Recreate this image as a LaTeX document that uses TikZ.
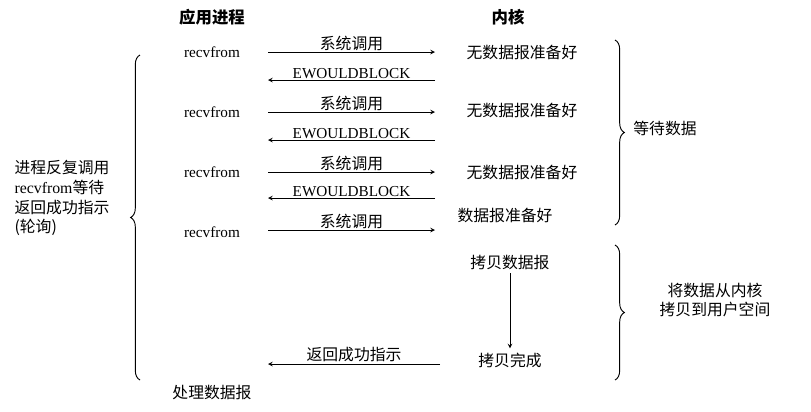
\documentclass[tikz,border=0pt]{standalone}
\usepackage{fontspec}
\setmainfont{Liberation Serif}
\newfontfamily\cjk{Noto Sans CJK SC}
\usetikzlibrary{decorations.pathreplacing}
\tikzset{
  every node/.style={font=\fontsize{13}{15}\selectfont},
  lbl/.style={font=\cjk\fontsize{13.5}{17}\selectfont},
  call/.style={thick,->,>=stealth},
  brc/.style={decorate,decoration={brace,amplitude=8pt},thick}
}
\begin{document}
\begin{tikzpicture}[x=0.03cm,y=-0.03cm]
\useasboundingbox (0,0) rectangle (811,411);
% titles
\node[lbl,font=\cjk\bfseries\fontsize{14}{16}\selectfont] (app) at (212,17) {应用进程};
\node[lbl,font=\cjk\bfseries\fontsize{14}{16}\selectfont] (ker) at (508,17) {内核};
% recvfrom
\foreach \y/\n in {52/1,112/2,172/3,232/4}
  \node (r\n) at (212,\y) {recvfrom};
% system calls
\foreach \y/\n in {52/1,112/2,172/3,230/4}{
  \coordinate (a\n) at (268,\y); \coordinate (b\n) at (435,\y);
  \draw[call] (a\n) -- node[lbl,above,inner sep=1pt] {系统调用} (b\n);
}
\foreach \y/\n in {80/1,140/2,198/3}{
  \coordinate (c\n) at (435,\y); \coordinate (d\n) at (268,\y);
  \draw[call] (c\n) -- node[above,inner sep=1pt] {EWOULDBLOCK} (d\n);
}
% kernel side
\foreach \y/\n in {52/1,110/2,172/3}
  \node[lbl] (k\n) at (522,\y) {无数据报准备好};
\node[lbl] (k4) at (505,215) {数据报准备好};
\node[lbl] (cp) at (510,262) {拷贝数据报};
\node[lbl] (done) at (510,360) {拷贝完成};
\draw[call] (cp) -- (done);
\coordinate (e) at (440,364); \coordinate (f) at (268,364);
\draw[call] (e) -- node[lbl,above,inner sep=1pt] {返回成功指示} (f);
\node[lbl] (proc) at (212,392) {处理数据报};
% braces
\draw[brc] (140,380) -- (140,55);
\node[lbl,align=left] (poll) at (62,198) {进程反复调用\\{\rmfamily recvfrom}等待\\返回成功指示\\(轮询)};
\draw[brc] (615,40) -- (615,225);
\node[lbl] (wait) at (665,128) {等待数据};
\draw[brc] (615,245) -- (615,380);
\node[lbl,align=center] (copy) at (715,300) {将数据从内核\\拷贝到用户空间};
\end{tikzpicture}
\end{document}
